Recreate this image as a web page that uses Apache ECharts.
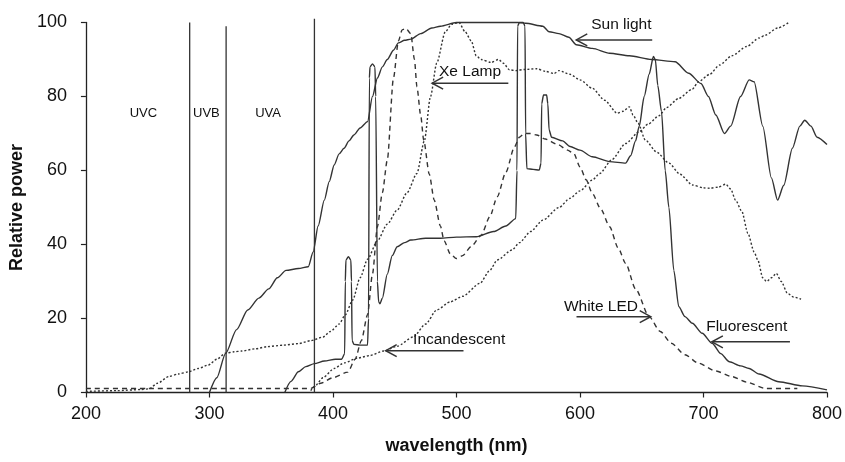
<!DOCTYPE html>
<html><head><meta charset="utf-8">
<script src="https://cdn.jsdelivr.net/npm/echarts@6/dist/echarts.min.js"></script>
<style>html,body{margin:0;padding:0;background:#fff}#c{width:845px;height:462px}</style>
</head><body><div id="c"></div>
<script>
// ---------- data (wavelength nm, relative power) ----------
const sunLight = [[300,0],[306,4],[313,10.5],[322,17],[331,22.3],[340,25.5],[348,28],[355,31],[362,33],[372,33.5],[380,34],[384,38],[388,45],[393,52],[397,57],[401,61.5],[405,64.5],[409,66],[413,68],[417,69.6],[422,71.5],[428,73.2],[432,80],[436,85],[440,88],[444,90],[449,92.5],[453,94.5],[458,95.2],[463,95.5],[471,97],[480,98.5],[487,99],[500,100],[520,100],[550,100],[556,99.8],[570,99],[575,97.5],[583,97],[591,96],[597,94],[610,93],[624,91.7],[640,91],[658,90],[677,89.4],[688,86.3],[698,83.5],[704,80],[710,75],[717,70],[722,72],[730,80],[737,84.5],[741,84],[748,72],[755,58],[760,52],[765,56],[772,66],[778,72],[782,73.6],[787,72],[792,69],[800,67]];
const xeLamp = [[200,0.3],[225,0.5],[245,0.8],[251,1],[258,2.5],[267,4.3],[275,5],[283,5.6],[291,6.5],[299,7.4],[306,9],[313,10.6],[320,11],[326,11.2],[337,11.8],[347,12.4],[360,12.8],[372,13.2],[382,14],[392,15],[398,16.5],[405,18.5],[410,21],[416,25],[422,31],[428,36],[436,41],[444,45.5],[452,49.3],[460,54],[468,59.2],[474,68],[479,80],[484,89],[491,97.5],[496,99.5],[502,100],[507,97.5],[512,95],[516,91],[520,90],[528,89.2],[534,90],[538,89],[543,87.2],[548,87],[555,87.3],[565,87.5],[572,86.8],[579,86.2],[583,87],[592,86],[600,84.5],[610,82.2],[620,79],[630,75.5],[635,76],[640,77.2],[643,75],[647,72.8],[653,68.2],[662,65],[672,62],[681,59],[691,56.1],[700,55.3],[705,55.2],[712,55.5],[718,56.3],[722,55],[726,52],[731,49],[736,43],[741,38],[744,35.8],[748,31],[751,30],[755,31],[759,32.2],[763,30],[768,26.8],[773,25.8],[779,25.2]];
const fluorescent = [[361,0],[366,3],[372,5.6],[378,7],[385,7.8],[393,8.5],[402,9],[407,9],[409.5,10.5],[410,30],[410.5,35.8],[412.5,36.7],[414.5,35.8],[415,30],[415.5,14],[417,13],[422,12.8],[428,12.8],[428.8,20],[429.5,85],[430,88],[432,88.8],[434,88],[434.6,80],[436,30],[437,24.5],[438,24],[440,25.5],[444,32],[448,37],[452,39.4],[458,40.5],[463,41.2],[475,41.7],[487,41.7],[500,42],[516,42.1],[530,43.5],[540,45],[548,47],[549,60],[549.5,99],[551,100],[554,100],[555.5,99],[556,70],[557,60.5],[562,60.3],[567,60.1],[568.5,62],[569,78],[570.5,80.4],[573,80.4],[574,78],[575,71],[577,69],[586,68],[592,66.5],[600,65.5],[610,63.7],[624,62.4],[637,62],[641,64],[645,68],[648,72],[652,80],[656,86],[659.5,90.8],[661,90],[663,83],[666,76],[669,60],[672,50],[676,33],[680,23.2],[685,20.5],[691,18.7],[699,16],[707,13.3],[714,10.5],[721,8.3],[730,7.2],[737,6.5],[745,5],[761,2.9],[780,1.8],[800,0.7]];
const whiteLED = [[200,1.1],[250,1.1],[300,1.1],[350,1.1],[382,1.1],[390,2.5],[400,4],[412,5.5],[418,9],[423,14],[428,21],[432,32],[436,44.8],[440,54],[444,62.8],[449,85],[453,95],[456,98],[459,98.4],[463,97],[466,90],[468,82.6],[471,75],[473.5,68.2],[478,59],[482,52],[487,45],[490,41],[495,37.5],[500,36.2],[505,37],[512,39.5],[520,42.5],[527,47.5],[533,52.9],[540,59.5],[547,66.4],[551,69],[555,70],[560,70],[565,69.6],[572,68.5],[582,67],[590,65.5],[595,64.6],[600,61],[605,57.5],[610,53.8],[617,49.5],[624,44.8],[631,39],[637,34.9],[645,28],[656,20.5],[665,16.5],[674,13.3],[685,10.2],[696,7.9],[710,5.8],[723,4.3],[735,2.8],[750,1.1],[776,1.1]];
const incandescent = [[382,0.5],[385,1.6],[392,4],[401,6.5],[409,8],[420,9.3],[430,10],[441,11.2],[452,12.5],[465,15],[475,18.5],[484,22.3],[495,24.5],[505,26],[519,29.5],[527,33],[533,35.8],[545,38.5],[551,40.5],[560,43.5],[570,46.6],[583,50],[592,52.5],[600,54.5],[610,57.4],[616,59.2],[626,63],[637,67.3],[648,70.5],[655,72.5],[664,74.8],[670,77],[680,79.5],[691,82],[696,84],[705,86],[713,88.5],[723,91],[735,93.5],[745,95.8],[750,96.6],[760,98.5],[770,100.2]];
const uvBounds = [284, 313.5, 385];
const uvTops = [100, 99, 101];
const uvLabels = ['UVC', 'UVB', 'UVA'];
const uvLabelX = [246.5, 297.5, 347.5];
const uvLabelY = 75.5;

// ---------- annotation layout (data coords) ----------
const notes = [
  {text:'Sun light',    tip:[597,95.3],  tail:[658.5,95.3], at:[633.5,99.4]},
  {text:'Xe Lamp',      tip:[480.3,83.6],tail:[542,83.6],   at:[511,86.8]},
  {text:'Incandescent', tip:[442.7,11.3],tail:[505.7,11.3], at:[502.2,14.3]},
  {text:'White LED',    tip:[657.3,20.5],tail:[597.2,20.5], at:[617,23.2]},
  {text:'Fluorescent',  tip:[706.8,13.7],tail:[770,13.7],   at:[735,17.9]}
];

const FONT = '"Liberation Sans", Arial, Helvetica, sans-serif';
const INK = '#333';
const chart = echarts.init(document.getElementById('c'), null, {renderer:'canvas'});

function curve(name, data, dash) {
  return {type:'line', name, data, symbol:'none', showSymbol:false, smooth:0.25, smoothMonotone:'x',
    clip:false, animation:false, z:3,
    lineStyle:{color:INK, width:1.4, type:dash}};
}
const series = [
  curve('Sun light', sunLight, 'solid'),
  curve('Xe Lamp', xeLamp, [2,2]),
  curve('Fluorescent', fluorescent, 'solid'),
  curve('White LED', whiteLED, [5,4]),
  curve('Incandescent', incandescent, [2,2])
];
uvBounds.forEach((x,i) => series.push({type:'line', name:'uv'+i, data:[[x,0],[x,uvTops[i]]],
  symbol:'none', showSymbol:false, clip:false, animation:false, lineStyle:{color:INK, width:1.3}}));

chart.setOption({
  animation:false,
  backgroundColor:'#fff',
  grid:{left:82.5, right:16, top:22.5, bottom:69.5},
  xAxis:{type:'value', min:200, max:800, interval:100,
    name:'wavelength (nm)', nameLocation:'middle', nameGap:45,
    nameTextStyle:{fontFamily:FONT, fontWeight:'bold', fontSize:18, color:'#111'},
    axisLine:{lineStyle:{color:'#222', width:1.3}},
    axisTick:{length:5, lineStyle:{color:'#222', width:1.2}},
    axisLabel:{fontFamily:FONT, fontSize:18, color:'#111', margin:13},
    splitLine:{show:false}},
  yAxis:{type:'value', min:0, max:100, interval:20,
    name:'Relative power', nameLocation:'middle', nameGap:52, nameRotate:90,
    nameTextStyle:{fontFamily:FONT, fontWeight:'bold', fontSize:18, color:'#111'},
    axisLine:{show:true, lineStyle:{color:'#222', width:1.3}},
    axisTick:{show:true, length:5, lineStyle:{color:'#222', width:1.2}},
    axisLabel:{fontFamily:FONT, fontSize:18, color:'#111', margin:19},
    splitLine:{show:false}},
  series
});

// annotations placed via the chart's own coordinate conversion
const px = p => chart.convertToPixel({gridIndex:0}, p);
const g = [];
notes.forEach(n => {
  const t = px(n.tip), e = px(n.tail), c = px(n.at);
  const dx = e[0]-t[0], dy = e[1]-t[1], L = Math.hypot(dx,dy);
  const ux = dx/L, uy = dy/L, len = 11, hw = 6;
  g.push({type:'line', shape:{x1:t[0], y1:t[1], x2:e[0], y2:e[1]}, style:{stroke:INK, lineWidth:1.5}, z:10});
  g.push({type:'polyline', shape:{points:[[t[0]+ux*len-uy*hw, t[1]+uy*len+ux*hw],[t[0],t[1]],[t[0]+ux*len+uy*hw, t[1]+uy*len-ux*hw]]},
    style:{stroke:INK, lineWidth:1.5, fill:null}, z:10});
  g.push({type:'text', x:c[0], y:c[1], z:10, style:{text:n.text, font:'15.5px '+FONT, fill:'#111',
    align:'center', verticalAlign:'middle', textAlign:'center', textVerticalAlign:'middle'}});
});
uvLabels.forEach((s,i) => {
  const c = px([uvLabelX[i], uvLabelY]);
  g.push({type:'text', x:c[0], y:c[1], z:10, style:{text:s, font:'13px '+FONT, fill:'#111',
    align:'center', verticalAlign:'middle', textAlign:'center', textVerticalAlign:'middle'}});
});
chart.setOption({graphic:g});
</script></body></html>
